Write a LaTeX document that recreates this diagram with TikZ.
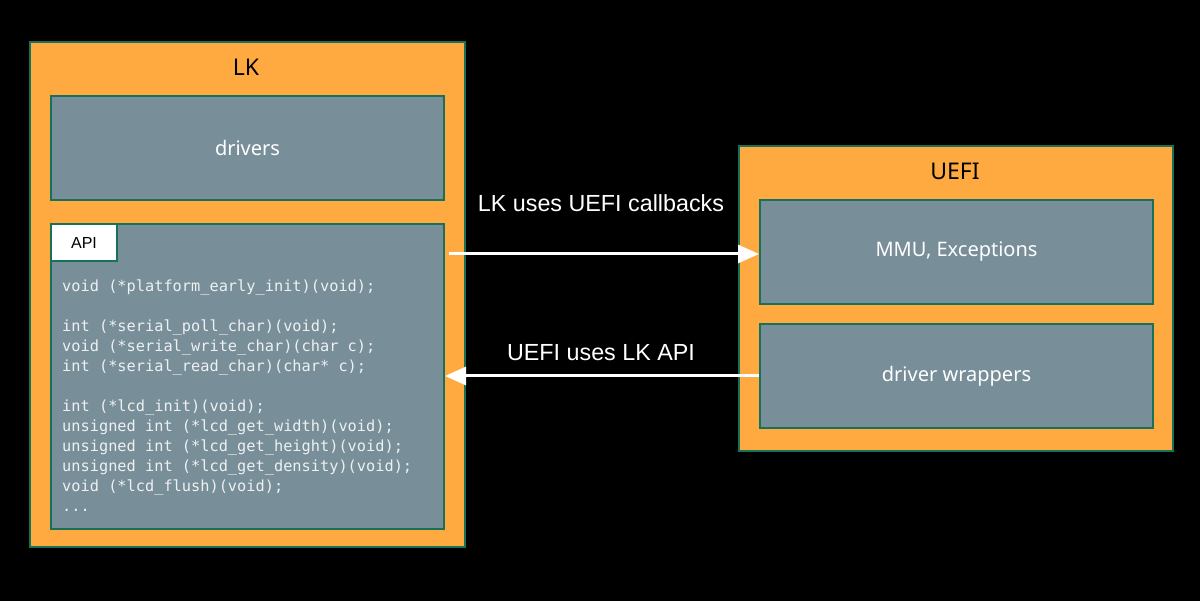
\documentclass[tikz,border=0pt]{standalone}
\usepackage{fontspec}
\setmainfont{Noto Sans}
\newfontfamily\arialfont{Liberation Sans}
\newfontfamily\codefont{DejaVu Sans Mono}
\usetikzlibrary{arrows.meta, positioning, calc}
\definecolor{lkorange}{HTML}{FFAA40}
\definecolor{lkslate}{HTML}{788E99}
\definecolor{lkgreen}{HTML}{16705A}
\definecolor{lkcode}{HTML}{EEF1F2}

\begin{document}
\begin{tikzpicture}[x=1pt, y=-1pt,
    outer/.style={draw=lkgreen, line width=2pt, fill=lkorange, anchor=north west,
                  inner sep=0pt, minimum width=#1},
    block/.style={draw=lkgreen, line width=2pt, fill=lkslate, inner sep=0pt,
                  minimum width=393pt, minimum height=104pt, text=white,
                  font=\fontsize{20}{24}\selectfont},
    title/.style={font=\fontsize{23}{27}\selectfont, text=black},
    label/.style={font=\arialfont\fontsize{23.3}{28}\selectfont, text=white},
    flow/.style={-{Triangle[length=21pt, width=18pt]}, white, line width=3pt},
]
    \fill[black] (0,0) rectangle (1200,601);

    % LK side
    \node[outer=435pt, minimum height=505pt] (lk) at (29,41) {};
    \node[title] (lktitle) at (246,67) {LK};
    \node[block, anchor=north west] (drivers) at (50,95) {drivers};
    \node[block, anchor=north west, minimum height=305pt] (api) at (50,223) {};
    \node[draw=lkgreen, line width=2pt, fill=white, anchor=north west, inner sep=0pt,
          minimum width=66pt, minimum height=37pt, font=\arialfont\fontsize{16}{19}\selectfont]
          (apitab) at (50,223) {API};
    \node[anchor=north west, inner sep=0pt, align=left, text=lkcode,
          font=\codefont\fontsize{15.3}{20}\selectfont] (code) at (62,280)
    {void (*platform\_early\_init)(void);\\[20pt]
     int (*serial\_poll\_char)(void);\\
     void (*serial\_write\_char)(char c);\\
     int (*serial\_read\_char)(char* c);\\[20pt]
     int (*lcd\_init)(void);\\
     unsigned int (*lcd\_get\_width)(void);\\
     unsigned int (*lcd\_get\_height)(void);\\
     unsigned int (*lcd\_get\_density)(void);\\
     void (*lcd\_flush)(void);\\
     ...};

    % UEFI side
    \node[outer=434pt, minimum height=305pt] (uefi) at (738,145) {};
    \node[title] (uefititle) at (955,171) {UEFI};
    \node[block, anchor=north west] (mmu) at (759,199) {MMU, Exceptions};
    \node[block, anchor=north west] (wrappers) at (759,323) {driver wrappers};

    % calls between them
    \draw[flow] ($(api.east |- mmu.west)+(4,2)$) -- ($(mmu.west)+(0,2)$);
    \draw[flow] (wrappers.west) -- (api.east |- wrappers.west);
    \node[label] (callbacks) at (601,203) {LK uses UEFI callbacks};
    \node[label] (uses) at (601,353) {UEFI uses LK API};
\end{tikzpicture}
\end{document}
